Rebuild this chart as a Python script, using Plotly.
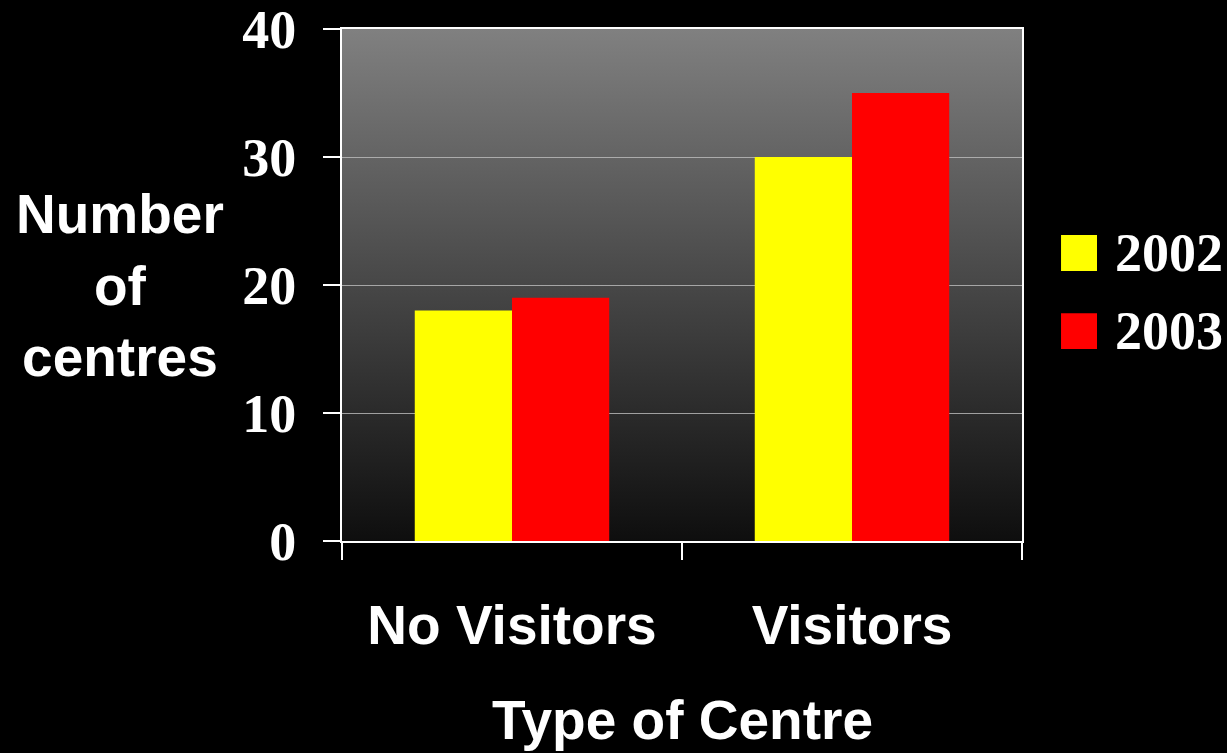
import base64
import plotly.graph_objects as go

categories = ["No Visitors", "Visitors"]
series_names = ["2002", "2003"]
values_2002 = [18, 30]
values_2003 = [19, 35]
colors = ["#ffff00", "#ff0000"]
y_ticks = [0, 10, 20, 30, 40]

fig = go.Figure()
for name, vals, col in zip(series_names, [values_2002, values_2003], colors):
    fig.add_trace(go.Bar(x=categories, y=vals, name=name, marker=dict(color=col, line=dict(width=0)),
                         showlegend=False))

# gradient background via SVG image
svg = ('<svg xmlns="http://www.w3.org/2000/svg" width="100" height="100" preserveAspectRatio="none">'
       '<defs><linearGradient id="g" x1="0" y1="0" x2="0" y2="1">'
       '<stop offset="0" stop-color="#808080"/><stop offset="1" stop-color="#0e0e0e"/>'
       '</linearGradient></defs><rect width="100" height="100" fill="url(#g)"/></svg>')
svg_uri = "data:image/svg+xml;base64," + base64.b64encode(svg.encode()).decode()

shapes = []
leg_y = [0.5625, 0.41]
for col, ly in zip(colors, leg_y):
    shapes.append(dict(type="rect", xref="paper", yref="paper",
                       x0=1.0574, x1=1.1103, y0=ly - 0.035, y1=ly + 0.035,
                       fillcolor=col, line=dict(width=0)))

annotations = []
for name, ly in zip(series_names, leg_y):
    annotations.append(dict(text=name, xref="paper", yref="paper", x=1.134, y=ly, xanchor="left", yanchor="middle",
                            showarrow=False, font=dict(family="Liberation Serif", size=54, color="white", weight="bold")))
annotations.append(dict(text="Number<br>of<br>centres", xref="paper", yref="paper", x=-0.3265, y=0.5,
                        xanchor="center", yanchor="middle", showarrow=False, align="center",
                        font=dict(family="Liberation Sans", size=55, color="white", weight="bold")))
annotations.append(dict(text="Type of Centre", xref="paper", yref="paper", x=0.5, y=-0.35,
                        xanchor="center", yanchor="middle", showarrow=False,
                        font=dict(family="Liberation Sans", size=55, color="white", weight="bold")))

fig.update_layout(
    width=1227, height=753,
    margin=dict(l=342, r=205, t=29, b=212, autoexpand=False),
    paper_bgcolor="black", plot_bgcolor="rgba(0,0,0,0)",
    barmode="group", bargap=0.428, bargroupgap=0,
    shapes=shapes, annotations=annotations,
    images=[dict(source=svg_uri, xref="x domain", yref="y domain", x=0, y=1, sizex=1, sizey=1,
                 xanchor="left", yanchor="top", sizing="stretch", layer="below")],
    showlegend=False,
)
fig.update_xaxes(type="category", tickson="boundaries", ticks="outside", ticklen=17, tickwidth=2,
                 tickcolor="white", showline=True, linecolor="white", linewidth=2, mirror=True,
                 showgrid=False, ticklabelstandoff=35, automargin=False,
                 tickfont=dict(family="Liberation Sans", size=55, color="white", weight="bold"))
fig.update_yaxes(range=[0, 40.0001], tickvals=y_ticks, ticks="outside", ticklen=17, tickwidth=2,
                 tickcolor="white", showline=True, linecolor="white", linewidth=2, mirror=True,
                 showgrid=True, gridcolor="rgba(190,190,190,0.8)", gridwidth=1, zeroline=False,
                 ticklabelstandoff=16, ticklabeloverflow="allow", automargin=False,
                 tickfont=dict(family="Liberation Serif", size=54, color="white", weight="bold"))

fig.write_html("out.html", config={"displayModeBar": False},
               post_script="document.body.style.margin='0';document.body.style.background='black';")
